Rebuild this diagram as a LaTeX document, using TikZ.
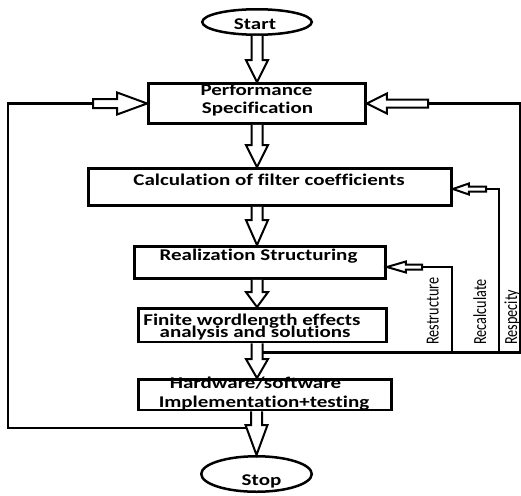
\documentclass[tikz,border=0pt]{standalone}
\usepackage{fontspec}
\setmainfont{Carlito}[Ligatures=NoCommon]
\usetikzlibrary{shapes.geometric,calc}
\tikzset{
  box/.style={draw, rectangle, line width=2.8pt, inner sep=0pt},
  term/.style={draw, ellipse, line width=2.5pt, inner sep=0pt},
  blk/.style={draw, line width=2pt, line join=miter, fill=white},
  fb/.style={line width=2.4pt},
  txt/.style={font=\fontsize{16.4}{19}\selectfont\bfseries, anchor=base, xscale=1.28, inner sep=0pt},
  vtxt/.style={font=\fontsize{14.2}{16}\selectfont, anchor=base west, rotate=90, yscale=1.3, inner sep=0pt},
}
% down block arrow: #1 tail point, #2 tip point, #3 head length
\newcommand\blockdown[3]{%
  \draw[blk] let \p1=(#1), \p2=(#2) in
    (\x2-5.5pt,\y1) -- (\x2-5.5pt,\y2+#3) -- (\x2-11pt,\y2+#3) -- (\x2,\y2)
    -- (\x2+11pt,\y2+#3) -- (\x2+5.5pt,\y2+#3) -- (\x2+5.5pt,\y1);}
% horizontal block arrow: #1 tail, #2 tip, #3 signed head length, #4 shaft half, #5 head half
\newcommand\blockh[5]{%
  \draw[blk] let \p1=(#1), \p2=(#2), \n1={\x2-#3} in
    (\x1,\y2+#4) -- (\n1,\y2+#4) -- (\n1,\y2+#5) -- (\x2,\y2)
    -- (\n1,\y2-#5) -- (\n1,\y2-#4) -- (\x1,\y2-#4) -- cycle;}
\begin{document}
\begin{tikzpicture}[x=1pt,y=-1pt]
\useasboundingbox (0,0) rectangle (521,495);
% terminals and boxes
\node[term, minimum width=109.5pt, minimum height=25.5pt] (start) at (257,22) {};
\node[box, minimum width=217pt, minimum height=40pt] (perf) at (257,103.5) {};
\node[box, minimum width=363pt, minimum height=37pt] (calc) at (270,187) {};
\node[box, minimum width=251pt, minimum height=32pt] (real) at (260,262.5) {};
\node[box, minimum width=248pt, minimum height=33.5pt] (fin) at (262.5,325.25) {};
\node[box, minimum width=253pt, minimum height=30.5pt] (hw) at (265,394.75) {};
\node[term, minimum width=110.5pt, minimum height=35.5pt] (stop) at (256.5,474) {};
% texts
\node[txt] (tstart) at (255,30) {Start};
\node[txt] (tperf1) at (256.5,95) {Performance};
\node[txt] (tperf2) at (257.5,113) {Specification};
\node[txt] (tcalc) at (269,185) {Calculation of filter coefficients};
\node[txt] (treal) at (258.5,260) {Realization Structuring};
\node[txt] (tfin1) at (252,325) {Finite wordlength effects};
\node[txt] (tfin2) at (255,337) {analysis and solutions};
\node[txt] (thw1) at (255.5,388) {Hardware/software};
\node[txt] (thw2) at (264,407.5) {Implementation+testing};
\node[txt] (tstop) at (261.5,485) {Stop};
\node[vtxt] (lrs) at (438.5,345) {Restructure};
\node[vtxt] (lrc) at (486,345) {Recalculate};
\node[vtxt] (lrp) at (517,345) {Respecity};
% feedback coordinates
\coordinate (ls) at (250.5,428);
\coordinate (lb) at (8,428);
\coordinate (lt0) at (8,103.5);
\coordinate (lt) at (93,103.5);
\coordinate (bs) at (261.5,352.5);
\coordinate (b1) at (452,352.5);
\coordinate (b2) at (499,352.5);
\coordinate (b3) at (520,352.5);
\coordinate (r0) at (520,103.5);
\coordinate (rt) at (428,103.5);
\coordinate (rs0) at (452,267);
\coordinate (rsT) at (422,267);
\coordinate (rc0) at (499,189);
\coordinate (rcT) at (486,189);
% feedback lines
\draw[fb] (ls) -- (lb) -- (lt0) -- (lt);
\draw[fb] (bs) -- (b3) -- (r0) -- (rt);
\draw[fb] (b1) -- (rs0) -- (rsT);
\draw[fb] (b2) -- (rc0) -- (rcT);
% main block arrows
\blockdown{start.south}{perf.north -| start.south}{22pt}
\blockdown{perf.south -| start.south}{calc.north -| start.south}{22pt}
\blockdown{calc.south -| start.south}{real.north -| start.south}{25pt}
\blockdown{real.south -| start.south}{fin.north -| start.south}{15pt}
\blockdown{fin.south -| start.south}{hw.north -| start.south}{19pt}
\blockdown{hw.south -| start.south}{stop.north}{30pt}
% side block arrows
\blockh{lt}{perf.west}{30pt}{4.5pt}{11pt}
\blockh{rt}{perf.east}{-20pt}{4pt}{10pt}
\blockh{rcT}{calc.east |- rcT}{-16pt}{2.5pt}{5.5pt}
\blockh{rsT}{real.east |- rsT}{-19pt}{2.5pt}{5.5pt}
\end{tikzpicture}
\end{document}
